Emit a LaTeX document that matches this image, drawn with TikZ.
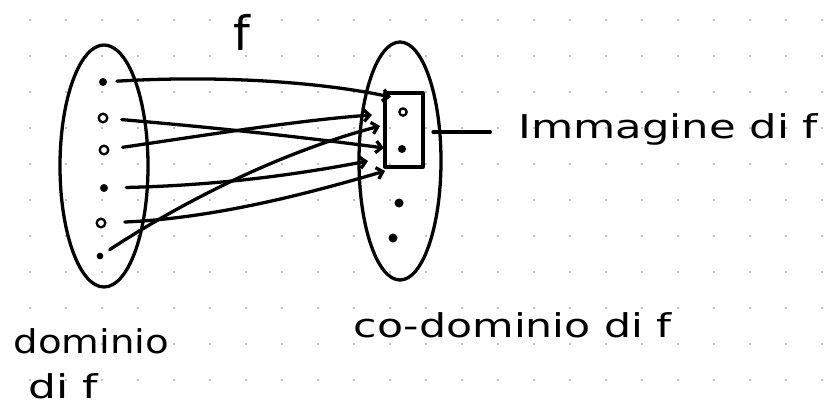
\documentclass[tikz,border=0pt]{standalone}
\usepackage{fontspec}
\setmainfont{DejaVu Sans}
\usetikzlibrary{arrows.meta}
\newcommand{\stretchword}[2]{\scalebox{#1}[1]{#2}}
\begin{document}
\begin{tikzpicture}[x=0.03cm, y=-0.03cm, >={Straight Barb[length=5pt, width=10pt]},
  line width=2.8pt, line cap=round, line join=round,
  hand/.style={font=\fontsize{28}{30}\selectfont, inner sep=0pt},
  hollowdot/.style={circle, draw, line width=2pt, inner sep=0pt, minimum size=0.26cm},
  fulldot/.style={circle, fill, inner sep=0pt, minimum size=0.24cm}]
\useasboundingbox (0,0) rectangle (836,406);
% dotted paper
\foreach \i in {0,...,22}
  \foreach \j in {0,...,10}
    \fill[black!50] (30+36*\i, 20+36*\j) circle (0.75pt);
% the two sets
\draw (104,166) ellipse (44 and 121);
\draw (400,161) ellipse (41 and 119);
\draw (385,93) rectangle (423,167);
% points of the domain
\node[fulldot] (d1) at (103,82) {};
\node[hollowdot] (d2) at (103,118) {};
\node[hollowdot] (d3) at (104,150) {};
\node[fulldot] (d4) at (104,188) {};
\node[hollowdot] (d5) at (101,223) {};
\node[fulldot, minimum size=0.2cm] (d6) at (100,256) {};
% points of the co-domain
\node[hollowdot, minimum size=0.22cm] (c1) at (403,112) {};
\node[fulldot] (c2) at (402,149) {};
\node[fulldot, minimum size=0.27cm] (c3) at (399,203) {};
\node[fulldot, minimum size=0.27cm] (c4) at (393,238) {};
% arrow ends
\coordinate (t1) at (391,97);
\coordinate (t2) at (384,148);
\coordinate (t3) at (372,115);
\coordinate (t4) at (368,161);
\coordinate (t5) at (385,171);
\coordinate (t6) at (380,126);
\draw[->, shorten <=0.25cm] (d1) .. controls (220,75) and (320,82) .. (t1);
\draw[->, shorten <=0.4cm] (d2) .. controls (220,128) and (310,138) .. (t2);
\draw[->, shorten <=0.4cm] (d3) .. controls (200,136) and (300,120) .. (t3);
\draw[->, shorten <=0.5cm] (d4) .. controls (230,185) and (310,172) .. (t4);
\draw[->, shorten <=0.55cm] (d5) .. controls (220,218) and (320,190) .. (t5);
\draw[->, shorten <=0.2cm] (d6) .. controls (170,210) and (270,155) .. (t6);
% labels
\node[hand] (fname) at (242,32) {\scalebox{1.45}{f}};
\coordinate (tick) at (433,132);
\node[hand, anchor=base west] (imm) at (517,138) {\stretchword{1.32}{Immagine di f}};
\draw[shorten >=0.8cm] (tick) -- (imm.west |- tick);
\node[hand, anchor=base west] (dom) at (12,353) {\stretchword{1.18}{dominio}};
\node[hand, anchor=base west] (domf) at (27,398) {\stretchword{1.34}{di f}};
\node[hand, anchor=base west] (codom) at (352,337) {\stretchword{1.3}{co-dominio di f}};
\end{tikzpicture}
\end{document}
